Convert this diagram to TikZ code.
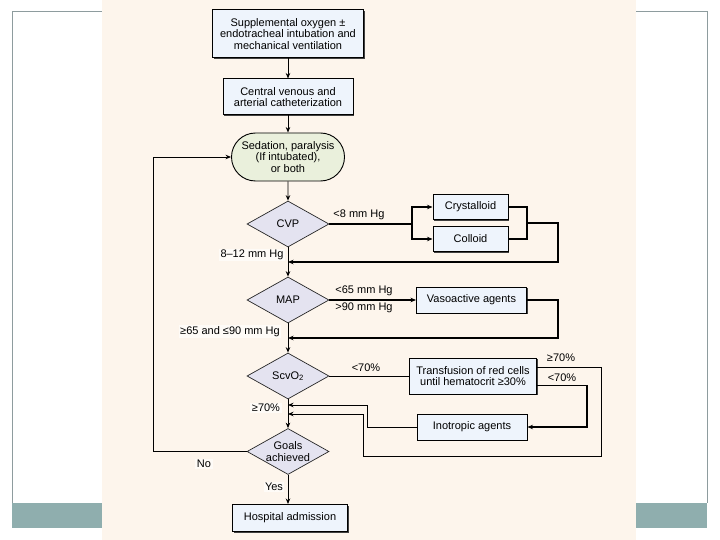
\documentclass[tikz,border=0pt]{standalone}
\usepackage{fontspec}
\setmainfont{Liberation Sans}
\usetikzlibrary{shapes.geometric, shapes.misc, shadows, arrows.meta}
\definecolor{cream}{HTML}{FDF5EC}
\definecolor{boxfill}{HTML}{EEF4FC}
\definecolor{ovalfill}{HTML}{EAF0DC}
\definecolor{decfill}{HTML}{E4E3F0}
\definecolor{band}{HTML}{8FAEAE}
\definecolor{frame}{HTML}{8E9C9E}

\begin{document}
\begin{tikzpicture}[x=1pt, y=-1pt, font=\fontsize{11}{11.5}\selectfont,
		>={Stealth[length=5.5pt, width=4.5pt]},
		box/.style={draw, line width=1pt, fill=boxfill, align=center, inner sep=0pt,
			drop shadow={shadow xshift=1.2pt, shadow yshift=-1.2pt, fill=black!75, opacity=1}},
		oval/.style={draw, line width=0.9pt, fill=ovalfill, rounded rectangle, align=center,
			inner sep=0pt, minimum width=113pt, minimum height=48pt},
		dec/.style={draw=black!85, line width=0.7pt, fill=decfill, diamond, aspect=1.8,
			inner sep=0pt, minimum width=82pt, minimum height=46pt, align=center},
		lbl/.style={inner sep=1pt},
		tag/.style={inner sep=1.5pt, fill=white!60!cream},
		flow/.style={line width=0.9pt},
		heavy/.style={line width=1.7pt}]
		\useasboundingbox (0,0) rectangle (720,540);
		\fill[white] (0,0) rectangle (720,540);
		\fill[cream] (102,0) rectangle (636,540);
		\draw[frame, line width=1pt] (12,503) -- (12,12) -- (102,12);
		\draw[frame, line width=1pt] (636,12) -- (707,12) -- (707,503);
		\fill[band] (12,503) rectangle (102,528);
		\fill[band] (636,503) rectangle (707,528);
		
		\node[box, minimum width=151pt, minimum height=48pt] (n1) at (288,34) {Supplemental oxygen ±\\endotracheal intubation and\\mechanical ventilation};
		\node[box, minimum width=130pt, minimum height=36pt] (n2) at (288,97) {Central venous and\\arterial catheterization};
		\node[oval] (n3) at (288,157) {Sedation, paralysis\\(If intubated),\\or both};
		\node[dec] (n4) at (288,224) {CVP};
		\node[box, minimum width=75pt, minimum height=25pt] (n5) at (470.5,207) {Crystalloid};
		\node[box, minimum width=75pt, minimum height=25pt] (n6) at (470.5,239) {Colloid};
		\node[dec] (n7) at (288,300) {MAP};
		\node[box, minimum width=110pt, minimum height=26pt] (n8) at (471.5,300) {Vasoactive agents};
		\node[dec] (n9) at (288,376) {ScvO\textsubscript{2}};
		\node[box, minimum width=127pt, minimum height=36pt] (n10) at (473,376) {Transfusion of red cells\\until hematocrit ≥30\%};
		\node[box, minimum width=110pt, minimum height=26pt] (n11) at (472,427) {Inotropic agents};
		\node[dec] (n12) at (288,451.5) {Goals\\achieved};
		\node[box, minimum width=115pt, minimum height=27pt] (n13) at (290,518) {Hospital admission};
		
		\node[lbl] (l1) at (359,215) {<8 mm Hg};
		\node[tag] (l2) at (252,255) {8–12 mm Hg};
		\node[lbl] (l3) at (364,291) {<65 mm Hg};
		\node[lbl] (l4) at (364,308) {>90 mm Hg};
		\node[tag] (l5) at (230,331.5) {≥65 and ≤90 mm Hg};
		\node[lbl] (l6) at (366,368) {<70\%};
		\node[lbl] (l7) at (561,358) {≥70\%};
		\node[lbl] (l8) at (562,378) {<70\%};
		\node[tag] (l9) at (266,408) {≥70\%};
		\node[tag] (l10) at (204,464) {No};
		\node[tag] (l11) at (274,487) {Yes};
		
		\coordinate (b1) at (412,224);
		\coordinate (m1) at (527,223);
		\coordinate (r1) at (558,262);
		\coordinate (r2) at (558,338);
		\coordinate (r3) at (601,456);
		\coordinate (r4) at (363,414);
		\coordinate (r5) at (587,400);
		\coordinate (r6) at (367,405);
		\coordinate (r7) at (153,451.5);
		
		\draw[->, flow] (n1) -- (n2);
		\draw[->, flow] (n2) -- (n3);
		\draw[->, flow] (n3) -- (n4);
		\draw[->, flow] (n4) -- (n7);
		\draw[->, flow] (n7) -- (n9);
		\draw[->, flow] (n9) -- (n12);
		\draw[->, flow] (n12.south) -- (n12.south |- n13.north);
		
		\draw[heavy] (n4.east) -- (b1);
		\draw[->, heavy] (b1) |- (n5.west);
		\draw[->, heavy] (b1) |- (n6.west);
		\draw[line width=1.3pt] (n5.east) -| (m1);
		\draw[line width=1.3pt] (n6.east) -| (m1);
		\draw[->, heavy] (m1) -| (r1) -- (r1 -| n4);
		
		\draw[->, heavy] (n7.east) -- (n8.west);
		\draw[->, heavy] (n8.east) -| (r2) -- (r2 -| n7);
		
		\draw[flow] (n9.east) -- (n10.west);
		\draw[->, flow] ([yshift=9pt]n10.east) -| (r3) -| (r4) -- (r4 -| n9);
		\draw[->, heavy] ([yshift=-9.5pt]n10.east) -| (r5) |- (n11.east);
		\draw[->, flow] (n11.west) -| (r6) -- (r6 -| n9);
		
		\draw[->, flow] (n12.west) -- (r7) |- (n3.west);
		\end{tikzpicture}
\end{document}
